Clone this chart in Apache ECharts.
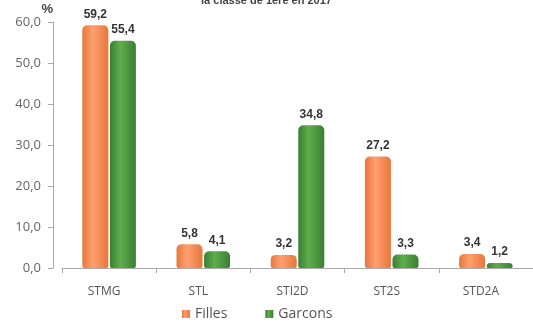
<!DOCTYPE html>
<html>
<head>
<meta charset="utf-8">
<script src="https://cdn.jsdelivr.net/npm/echarts@6/dist/echarts.min.js"></script>
<style>
  html, body { margin: 0; padding: 0; background: #fff; }
  #main { width: 533px; height: 325px; }
</style>
</head>
<body>
<div id="main"></div>
<script>
const categories = ['STMG', 'STL', 'STI2D', 'ST2S', 'STD2A'];
const filles = [59.2, 5.8, 3.2, 27.2, 3.4];
const garcons = [55.4, 4.1, 34.8, 3.3, 1.2];
const yTicks = [0, 10, 20, 30, 40, 50, 60];

const fmt = v => v.toFixed(1).replace('.', ',');

// cylinder-ish shading
function shade(edge, mid) {
    return new echarts.graphic.LinearGradient(0, 0, 1, 0, [
        { offset: 0, color: edge },
        { offset: 0.4, color: mid },
        { offset: 1, color: edge }
    ]);
}

const chart = echarts.init(document.getElementById('main'));

const option = {
    animation: false,
    title: {
        text: 'la classe de 1ère en 2017',
        left: 'center',
        top: -10,
        textStyle: { fontSize: 11, fontWeight: 'bold', color: '#444', fontFamily: 'Liberation Sans' }
    },
    legend: {
        data: ['Filles', 'Garcons'],
        top: 305,
        left: 177,
        padding: [2, 5, 2, 5],
        itemWidth: 8,
        itemHeight: 8,
        itemGap: 38,
        icon: 'rect',
        textStyle: { fontSize: 14, color: '#555', fontFamily: 'Open Sans' }
    },
    grid: { left: 62, right: 0, top: 22, bottom: 57 },
    xAxis: {
        type: 'category',
        data: categories,
        axisLine: { lineStyle: { color: '#aaa' } },
        axisTick: { show: true, alignWithLabel: false, lineStyle: { color: '#aaa' } },
        axisLabel: { color: '#555', fontSize: 12, margin: 18, padding: [0, 10, 0, 0], fontFamily: 'Open Sans' }
    },
    yAxis: {
        type: 'value',
        name: '%',
        nameGap: 4,
        offset: 9,
        nameTextStyle: { color: '#444', fontWeight: 'bold', fontSize: 13, align: 'right' },
        min: yTicks[0],
        max: yTicks[yTicks.length - 1],
        interval: 10,
        splitLine: { show: false },
        axisLine: { show: true, lineStyle: { color: '#aaa' } },
        axisTick: { show: true, lineStyle: { color: '#aaa' } },
        axisLabel: { color: '#666', fontSize: 13, margin: 12, formatter: v => fmt(v), fontFamily: 'Open Sans' }
    },
    series: [
        {
            name: 'Filles',
            type: 'bar',
            data: filles,
            barWidth: 26,
            barGap: '6%',
            itemStyle: {
                color: shade('#e8763a', '#ffa070'),
                borderRadius: [5, 5, 2, 2]
            },
            label: {
                show: true,
                position: 'top',
                formatter: p => fmt(p.value),
                color: '#333',
                fontWeight: 'bold',
                fontSize: 12
            }
        },
        {
            name: 'Garcons',
            type: 'bar',
            data: garcons,
            barWidth: 26,
            itemStyle: {
                color: shade('#3a7f33', '#5fae4c'),
                borderRadius: [5, 5, 2, 2]
            },
            label: {
                show: true,
                position: 'top',
                formatter: p => fmt(p.value),
                color: '#333',
                fontWeight: 'bold',
                fontSize: 12
            }
        }
    ]
};

chart.setOption(option);
</script>
</body>
</html>
